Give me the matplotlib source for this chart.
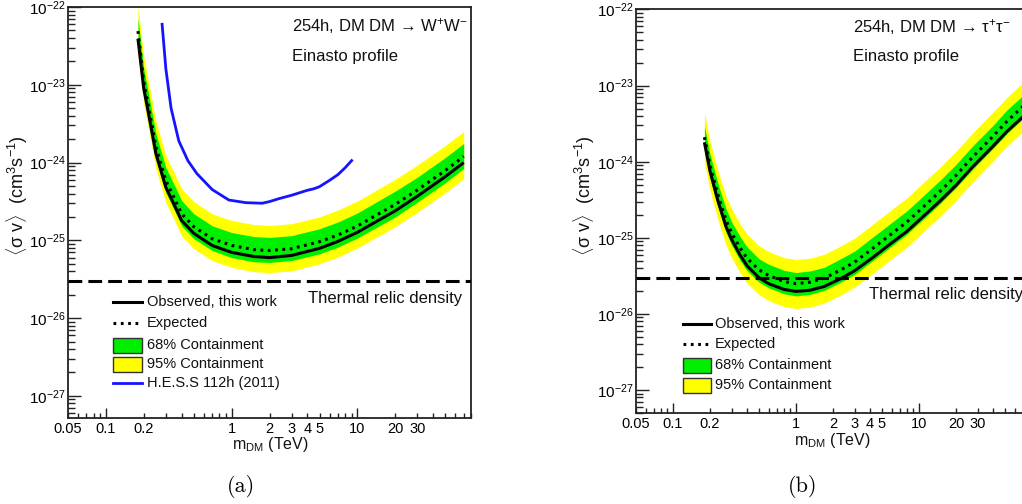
import matplotlib
matplotlib.use('Agg')
import matplotlib.pyplot as plt
from matplotlib.ticker import FixedLocator, FuncFormatter, NullFormatter
from matplotlib.lines import Line2D
from matplotlib.patches import Rectangle
from matplotlib.transforms import Affine2D

plt.rcParams['font.family'] = ['Liberation Sans', 'DejaVu Sans']
plt.rcParams['mathtext.fontset'] = 'custom'
plt.rcParams['mathtext.rm'] = 'Liberation Sans'
plt.rcParams['mathtext.it'] = 'Liberation Sans:italic'
plt.rcParams['mathtext.bf'] = 'Liberation Sans:bold'

# ---------------- data: panel (a)  DM DM -> W+W- ----------------
m_a = [0.18, 0.2, 0.22, 0.25, 0.3, 0.35, 0.4, 0.5, 0.7, 1, 1.5, 2, 3, 5, 7, 10, 20, 30, 50, 70]
obs_a = [3.9e-23, 9.0e-24, 4.0e-24, 1.3e-24, 4.8e-25, 2.85e-25, 1.8e-25, 1.23e-25, 8.6e-26, 7.0e-26,
         6.2e-26, 6.0e-26, 6.4e-26, 7.9e-26, 9.7e-26, 1.27e-25, 2.4e-25, 3.7e-25, 6.6e-25, 1.0e-24]
exp_a = [4.9e-23, 1.1e-23, 4.9e-24, 1.6e-24, 5.85e-25, 3.5e-25, 2.2e-25, 1.5e-25, 1.05e-25, 8.6e-26,
         7.6e-26, 7.4e-26, 7.8e-26, 9.6e-26, 1.17e-25, 1.53e-25, 2.9e-25, 4.45e-25, 7.9e-25, 1.2e-24]
hi95_a = [1.03e-22, 2.3e-23, 1.03e-23, 3.4e-24, 1.23e-24, 7.35e-25, 4.6e-25, 3.15e-25, 2.2e-25, 1.8e-25,
          1.6e-25, 1.55e-25, 1.64e-25, 2.0e-25, 2.46e-25, 3.2e-25, 6.1e-25, 9.3e-25, 1.66e-24, 2.5e-24]
hi68_a = [7.2e-23, 1.62e-23, 7.2e-24, 2.35e-24, 8.6e-25, 5.15e-25, 3.25e-25, 2.2e-25, 1.54e-25, 1.26e-25,
          1.12e-25, 1.09e-25, 1.15e-25, 1.41e-25, 1.72e-25, 2.25e-25, 4.3e-25, 6.5e-25, 1.16e-24, 1.76e-24]
lo68_a = [3.4e-23, 7.7e-24, 3.4e-24, 1.12e-24, 4.1e-25, 2.45e-25, 1.54e-25, 1.05e-25, 7.4e-26, 6.0e-26,
          5.3e-26, 5.2e-26, 5.5e-26, 6.7e-26, 8.2e-26, 1.07e-25, 2.0e-25, 3.1e-25, 5.5e-25, 8.4e-25]
lo95_a = [2.55e-23, 5.7e-24, 2.55e-24, 8.3e-25, 3.05e-25, 1.82e-25, 1.14e-25, 7.8e-26, 5.5e-26, 4.5e-26,
          3.95e-26, 3.85e-26, 4.05e-26, 5.0e-26, 6.1e-26, 8.0e-26, 1.5e-25, 2.3e-25, 4.1e-25, 6.2e-25]

# H.E.S.S. 112h (2011)
m_hess = [0.28, 0.30, 0.33, 0.38, 0.45, 0.53, 0.7, 0.95, 1.3, 1.75, 2.0, 2.4, 3.0, 4.0, 4.5, 5.0, 6.0, 7.0, 8.0, 9.0]
sv_hess = [6.0e-23, 1.6e-23, 5.0e-24, 1.9e-24, 1.05e-24, 7.2e-25, 4.5e-25, 3.3e-25, 3.05e-25, 3.0e-25,
           3.15e-25, 3.45e-25, 3.8e-25, 4.4e-25, 4.6e-25, 4.9e-25, 5.9e-25, 7.0e-25, 8.6e-25, 1.06e-24]

# ---------------- data: panel (b)  DM DM -> tau+tau- ----------------
m_b = [0.18, 0.2, 0.23, 0.27, 0.3, 0.35, 0.4, 0.5, 0.6, 0.8, 1.0, 1.3, 1.7, 2.3, 3, 4.2, 6, 8, 10, 15, 20, 27, 40, 52, 70]
obs_b = [1.8e-24, 7.5e-25, 3.2e-25, 1.4e-25, 9.5e-26, 6.0e-26, 4.3e-26, 3.0e-26, 2.5e-26, 2.1e-26, 1.98e-26,
         2.05e-26, 2.3e-26, 2.9e-26, 3.7e-26, 5.5e-26, 8.6e-26, 1.22e-25, 1.7e-25, 3.1e-25, 4.9e-25, 8.4e-25,
         1.6e-24, 2.5e-24, 3.9e-24]
exp_b = [2.1e-24, 8.9e-25, 3.85e-25, 1.7e-25, 1.16e-25, 7.45e-26, 5.4e-26, 3.8e-26, 3.2e-26, 2.67e-26, 2.5e-26,
         2.62e-26, 2.95e-26, 3.77e-26, 4.8e-26, 7.25e-26, 1.135e-25, 1.62e-25, 2.26e-25, 4.15e-25, 6.6e-25,
         1.13e-24, 2.16e-24, 3.4e-24, 5.3e-24]
hi95_b = [4.35e-24, 1.84e-24, 8.0e-25, 3.5e-25, 2.4e-25, 1.54e-25, 1.12e-25, 7.9e-26, 6.6e-26, 5.5e-26, 5.2e-26,
          5.4e-26, 6.1e-26, 7.8e-26, 9.9e-26, 1.5e-25, 2.35e-25, 3.35e-25, 4.7e-25, 8.6e-25, 1.37e-24, 2.34e-24,
          4.5e-24, 7.0e-24, 1.1e-23]
hi68_b = [2.94e-24, 1.25e-24, 5.4e-25, 2.38e-25, 1.62e-25, 1.04e-25, 7.6e-26, 5.3e-26, 4.5e-26, 3.74e-26, 3.5e-26,
          3.67e-26, 4.1e-26, 5.3e-26, 6.7e-26, 1.02e-25, 1.59e-25, 2.27e-25, 3.16e-25, 5.8e-25, 9.2e-25, 1.58e-24,
          3.0e-24, 4.8e-24, 7.4e-24]
lo68_b = [1.45e-24, 6.1e-25, 2.66e-25, 1.17e-25, 8.0e-26, 5.1e-26, 3.7e-26, 2.62e-26, 2.2e-26, 1.84e-26, 1.73e-26,
          1.81e-26, 2.04e-26, 2.6e-26, 3.3e-26, 5.0e-26, 7.8e-26, 1.12e-25, 1.56e-25, 2.86e-25, 4.55e-25, 7.8e-25,
          1.49e-24, 2.35e-24, 3.65e-24]
lo95_b = [9.9e-25, 4.2e-25, 1.81e-25, 8.0e-26, 5.45e-26, 3.5e-26, 2.54e-26, 1.79e-26, 1.5e-26, 1.25e-26, 1.18e-26,
          1.23e-26, 1.39e-26, 1.77e-26, 2.26e-26, 3.4e-26, 5.3e-26, 7.6e-26, 1.06e-25, 1.95e-25, 3.1e-25, 5.3e-25,
          1.02e-24, 1.6e-24, 2.5e-24]

thermal_relic = 3e-26

xtick_values = [0.05, 0.1, 0.2, 1, 2, 3, 4, 5, 10, 20, 30]
xtick_labels = ['0.05', '0.1', '0.2', '1', '2', '3', '4', '5', '10', '20', '30']
x_major = [0.1, 1, 10]
x_minor = [0.05, 0.06, 0.07, 0.08, 0.09, 0.2, 0.3, 0.4, 0.5, 0.6, 0.7, 0.8, 0.9,
           2, 3, 4, 5, 6, 7, 8, 9, 20, 30, 40, 50, 60, 70, 80]
y_major = [1e-28, 1e-27, 1e-26, 1e-25, 1e-24, 1e-23, 1e-22]

legend_a = ['Observed, this work', 'Expected', '68% Containment', '95% Containment', 'H.E.S.S 112h (2011)']
legend_b = ['Observed, this work', 'Expected', '68% Containment', '95% Containment']

YELLOW = '#ffff00'
GREEN = '#00ee00'
BLUE = '#1414ff'

W, H = 1022, 504
fig = plt.figure(figsize=(W / 100, H / 100), dpi=100)
fig.patch.set_facecolor('white')
tpx = Affine2D().scale(1.0 / W, -1.0 / H).translate(0, 1) + fig.transFigure


def axes_px(l, t, r, b):
    return fig.add_axes([l / W, 1 - b / H, (r - l) / W, (b - t) / H])


def xfmt(v, pos):
    for k, s in zip(xtick_values, xtick_labels):
        if abs(v / k - 1) < 1e-6:
            return s
    return ''


def style_axes(ax, ylo):
    ax.set_xscale('log')
    ax.set_yscale('log')
    ax.set_xlim(0.05, 80)
    ax.set_ylim(ylo, 1e-22)
    ax.xaxis.set_major_locator(FixedLocator(x_major))
    ax.xaxis.set_minor_locator(FixedLocator(x_minor))
    ax.xaxis.set_major_formatter(FuncFormatter(xfmt))
    ax.xaxis.set_minor_formatter(FuncFormatter(xfmt))
    ax.yaxis.set_major_locator(FixedLocator(y_major))
    ax.yaxis.set_minor_locator(FixedLocator([k * d for d in y_major for k in range(2, 10)]))
    ax.yaxis.set_minor_formatter(NullFormatter())
    ax.tick_params(which='both', direction='in', top=False, right=False, width=1.0, color='#222222')
    ax.tick_params(axis='x', which='major', length=7.5, pad=3, labelsize=10.5)
    ax.tick_params(axis='x', which='minor', length=3.8, pad=3, labelsize=10.5)
    ax.tick_params(axis='y', which='major', length=9.5, pad=1.5, labelsize=11)
    ax.tick_params(axis='y', which='minor', length=5, pad=1.5)
    for s in ax.spines.values():
        s.set_linewidth(1.3)
        s.set_color('#222222')


def draw_panel(ax, m, obs, exp, lo95, lo68, hi68, hi95):
    ax.fill_between(m, lo95, hi95, color=YELLOW, lw=0, zorder=1)
    ax.fill_between(m, lo68, hi68, color=GREEN, lw=0, zorder=2)
    ax.plot(m, obs, color='black', lw=2.2, zorder=3, solid_capstyle='butt')
    ax.plot(m, exp, color='black', lw=2.2, dashes=(0.9, 1.5), zorder=4)
    ax.axhline(thermal_relic, color='black', lw=2.2, dashes=(4.5, 2.0), zorder=6)


def legend(x0, x1, xt, rows, labels, kinds):
    for y, lab, kind in zip(rows, labels, kinds):
        if kind == 'solid':
            fig.add_artist(Line2D([x0, x1], [y, y], color='black', lw=2.2, transform=tpx))
        elif kind == 'dotted':
            fig.add_artist(Line2D([x0, x1], [y, y], color='black', lw=2.2, dashes=(0.9, 1.5), transform=tpx))
        elif kind == 'blue':
            fig.add_artist(Line2D([x0, x1], [y, y], color=BLUE, lw=2.0, transform=tpx))
        else:
            fc = GREEN if kind == 'green' else YELLOW
            fig.add_artist(Rectangle((x0, y + 7.5), x1 - x0, -15, facecolor=fc, edgecolor='#333333',
                                     lw=1.0, transform=tpx))
        fig.text(xt, y, lab, transform=tpx, fontsize=10.5, va='center', ha='left', color='#111111')


# ---------------- panel (a) ----------------
axa = axes_px(68, 7, 471, 418)
style_axes(axa, 5.2e-28)
draw_panel(axa, m_a, obs_a, exp_a, lo95_a, lo68_a, hi68_a, hi95_a)
axa.plot(m_hess, sv_hess, color=BLUE, lw=2.0, zorder=5)

# ---------------- panel (b) ----------------
axb = axes_px(636, 9.5, 1030, 413)
style_axes(axb, 5.0e-28)
draw_panel(axb, m_b, obs_b, exp_b, lo95_b, lo68_b, hi68_b, hi95_b)

# texts panel (a)
fig.text(292, 26, '254h, DM DM \u2192 W$^{+}$W$^{-}$', transform=tpx, fontsize=12, va='center', color='#111111')
fig.text(292, 56, 'Einasto profile', transform=tpx, fontsize=12, va='center', color='#111111')
fig.text(308, 299, 'Thermal relic density', transform=tpx, fontsize=12, va='center', color='#111111')
# texts panel (b)
fig.text(853, 27, '254h, DM DM \u2192 \u03c4$^{+}$\u03c4$^{-}$', transform=tpx, fontsize=12, va='center', color='#111111')
fig.text(853, 57, 'Einasto profile', transform=tpx, fontsize=12, va='center', color='#111111')
fig.text(869, 295, 'Thermal relic density', transform=tpx, fontsize=12, va='center', color='#111111')

# axis titles
xlab = 'm$_{\\mathrm{DM}}$ (TeV)'
ylab = '$\\langle$\u03c3 v$\\rangle$  (cm$^{3}$s$^{-1}$)'
fig.text(270, 449, xlab, transform=tpx, fontsize=11.5, ha='center', va='baseline', color='#111111')
fig.text(832, 445, xlab, transform=tpx, fontsize=11.5, ha='center', va='baseline', color='#111111')
fig.text(17, 196, ylab, transform=tpx, fontsize=13, ha='center', va='center', rotation=90, color='#111111')
fig.text(584, 196, ylab, transform=tpx, fontsize=13, ha='center', va='center', rotation=90, color='#111111')

# legends
legend(113, 142, 147, [302, 323, 345, 364, 383], legend_a, ['solid', 'dotted', 'green', 'yellow', 'blue'])
legend(683, 711, 715, [324, 344, 365, 385], legend_b, ['solid', 'dotted', 'green', 'yellow'])

# sub-captions
fig.text(241, 487, '(a)', transform=tpx, fontsize=16, ha='center', va='center', family='cmr10')
fig.text(803, 487, '(b)', transform=tpx, fontsize=16, ha='center', va='center', family='cmr10')

fig.savefig('out.png', dpi=100, facecolor='white')
